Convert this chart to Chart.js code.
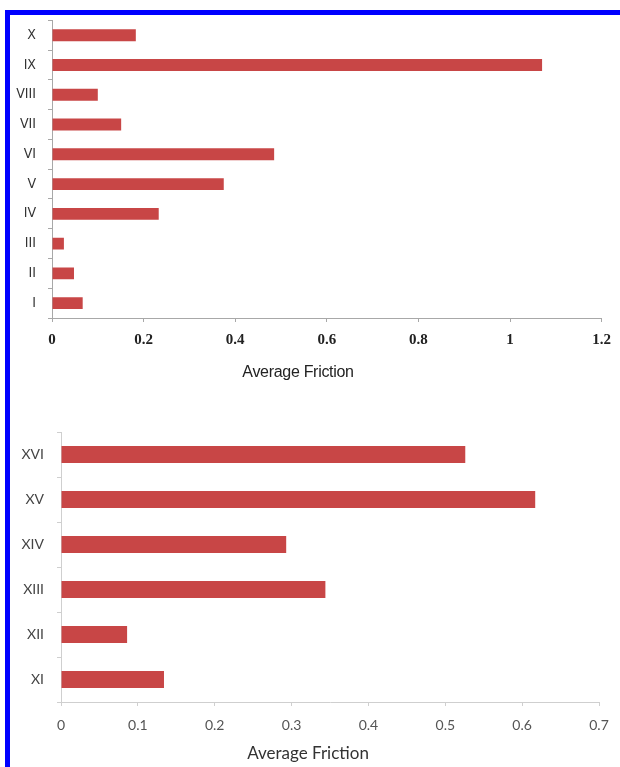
<!DOCTYPE html>
<html>
<head>
<meta charset="utf-8">
<script src="https://cdn.jsdelivr.net/npm/chart.js@4.4.0/dist/chart.umd.min.js"></script>
<style>
  body { margin: 0; background: #fff; width: 620px; height: 767px; overflow: hidden; position: relative; }
  #cadre { position: absolute; left: 5px; top: 10px; width: 700px; height: 800px; border: 5px solid #0000ff; box-sizing: border-box; }
  canvas { position: absolute; left: 0; }
  #haut { top: 0; }
  #bas { top: 390px; }
  .titre { position: absolute; width: 240px; text-align: center; white-space: nowrap; }
  #titreHaut { left: 178px; top: 363px; font: 16px "Liberation Sans", Arial, sans-serif; color: #222; letter-spacing: -0.3px; }
  #titreBas { left: 188px; top: 742px; font: 17px Lato, "Open Sans", sans-serif; color: #333; }
</style>
</head>
<body>
<div id="cadre"></div>
<canvas id="haut" width="620" height="390"></canvas>
<canvas id="bas" width="620" height="377"></canvas>
<div class="titre" id="titreHaut">Average Friction</div>
<div class="titre" id="titreBas">Average Friction</div>
<script>
// données du graphique du haut (I à X)
const labelsHaut = ["I", "II", "III", "IV", "V", "VI", "VII", "VIII", "IX", "X"];
const valeursHaut = [0.067, 0.048, 0.026, 0.233, 0.375, 0.485, 0.151, 0.100, 1.070, 0.183];
const ticksHaut = [0, 0.2, 0.4, 0.6, 0.8, 1, 1.2];

// données du graphique du bas (XI à XVI)
const labelsBas = ["XI", "XII", "XIII", "XIV", "XV", "XVI"];
const valeursBas = [0.134, 0.086, 0.344, 0.293, 0.617, 0.526];
const ticksBas = [0, 0.1, 0.2, 0.3, 0.4, 0.5, 0.6, 0.7];

const rouge = "#c84646";

function fabrique(id, labels, valeurs, ticks, opts) {
  const max = ticks[ticks.length - 1];
  return new Chart(document.getElementById(id).getContext("2d"), {
    type: "bar",
    data: {
      labels: labels,
      datasets: [{
        data: valeurs,
        backgroundColor: rouge,
        borderWidth: 0,
        barPercentage: opts.barPct,
        categoryPercentage: 1,
      }],
    },
    options: {
      indexAxis: "y",
      responsive: false,
      animation: false,
      layout: { padding: opts.padding },
      plugins: { legend: { display: false }, tooltip: { enabled: false } },
      scales: {
        x: {
          min: 0,
          max: max,
          afterBuildTicks: (axis) => { axis.ticks = ticks.map((v) => ({ value: v })); },
          afterFit: (axis) => { axis.height = opts.xHauteur; },
          grid: { drawOnChartArea: false, drawTicks: true, tickLength: 4, color: opts.axe },
          border: { display: true, color: opts.axe },
          ticks: {
            padding: opts.xPad,
            color: opts.xCouleur,
            font: opts.xFont,
            maxRotation: 0,
            callback: (v) => String(v),
          },
        },
        y: {
          reverse: true,
          afterFit: (axis) => { axis.width = opts.yLargeur; },
          grid: { drawOnChartArea: false, drawTicks: true, tickLength: 4, color: opts.axe, offset: true },
          border: { display: true, color: opts.axe },
          ticks: { padding: opts.yPad, color: opts.yCouleur, font: opts.yFont },
        },
      },
    },
  });
}

fabrique("haut", labelsHaut, valeursHaut, ticksHaut, {
  barPct: 0.4,
  padding: { left: 0, right: 11, top: 20, bottom: 0 },
  xHauteur: 72,
  yLargeur: 52,
  axe: "#a8a8a8",
  xPad: 9,
  xCouleur: "#222",
  xFont: { family: "'Liberation Serif', 'DejaVu Serif', serif", size: 15, weight: "bold" },
  yPad: 12,
  yCouleur: "#333",
  yFont: { family: "'Liberation Sans Narrow', 'DejaVu Sans Condensed', sans-serif", size: 14 },
});

fabrique("bas", labelsBas, valeursBas, ticksBas, {
  barPct: 0.38,
  padding: { left: 0, right: 21, top: 42, bottom: 0 },
  xHauteur: 65,
  yLargeur: 61,
  axe: "#cfcfcf",
  xPad: 11,
  xCouleur: "#555",
  xFont: { family: "Lato, 'Open Sans', sans-serif", size: 14 },
  yPad: 13,
  yCouleur: "#444",
  yFont: { family: "Lato, 'Open Sans', sans-serif", size: 14 },
});
</script>
</body>
</html>
